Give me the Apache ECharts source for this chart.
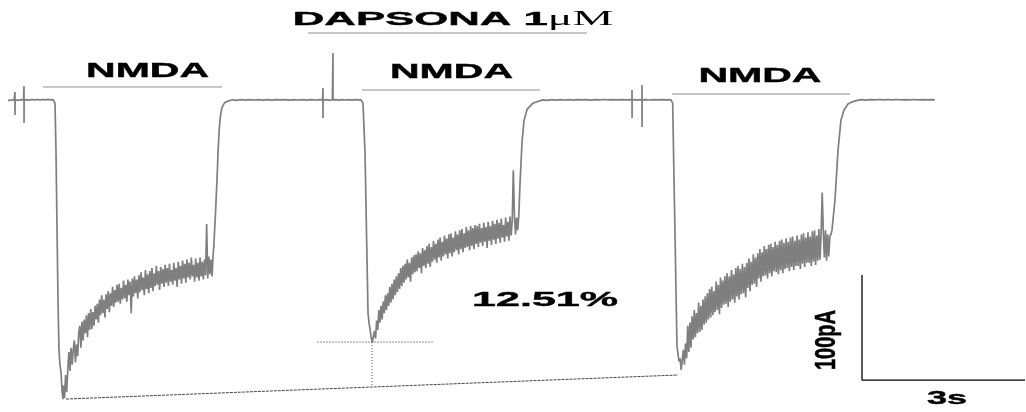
<!DOCTYPE html>
<html><head><meta charset="utf-8">
<script src="https://cdn.jsdelivr.net/npm/echarts@6/dist/echarts.min.js"></script>
<style>html,body{margin:0;padding:0;background:#fff}#c{width:1026px;height:412px}</style>
</head><body><div id="c"></div>
<script>
// ---- Recording (time in s, current in pA) ----
const segA = [[0.146,-0.3],[0.18,0.2],[0.22,-0.2],[0.26,0.3],[0.273,0],[0.274,7.6],[0.275,-14.3],[0.276,0],[0.31,0.3],[0.35,-0.2],[0.39,0.3],[0.43,-0.1],[0.438,0],[0.439,13.3],[0.44,-21.9],[0.441,0],[0.48,0.4],[0.53,-0.1],[0.58,0.5],[0.63,0.1],[0.68,0.5],[0.73,0.2],[0.78,0.5],[0.83,0.1],[0.88,0.6],[0.93,0.2],[0.97,0.4],[0.99,-0.3],[1.006,-3],[1.024,-47.6],[1.061,-190.5],[1.079,-238],[1.098,-253],[1.116,-259],[1.134,-276],[1.152,-285]];
const plateau1Start = 1.16;
const plateau1 = [-272,-284,-262,-278,-256,-240,-258,-236,-252,-238,-229,-250,-233,-244,-222,-215,-236,-211,-229,-209,-222,-205,-226,-203,-219,-199,-218,-202,-215,-196,-209,-194,-212,-190,-205,-186,-203,-190,-207,-185,-199,-182,-202,-184,-196,-178,-197,-181,-193,-176,-192,-175,-194,-179,-190,-172,-189,-176,-192,-171,-186,-173,-203,-170,-187,-168,-184,-171,-189,-167,-183,-164,-181,-169,-186,-162,-180,-166,-184,-163,-179,-160,-182,-165,-177,-158,-176,-163,-181,-159,-175,-161,-178,-157,-174,-160,-177,-156,-173,-162,-176,-155,-172,-160,-178,-154,-171,-158,-175,-153,-170,-156,-174,-152,-169,-155,-171,-150,-168,-157,-173,-151,-169,-155,-172,-150,-168,-154,-171,-152,-167,-118,-170,-149,-166,-152,-168];
const segB = [[3.895,-150],[3.91,-140],[3.94,-110],[3.97,-75],[3.99,-48],[4.01,-28],[4.03,-16],[4.06,-7],[4.11,-2.5],[4.18,-0.8],[4.26,0.2],[4.33,-0.3],[4.41,0.3],[4.49,-0.1],[4.57,0.4],[4.65,0],[4.73,0.4],[4.81,-0.2],[4.89,0.3],[4.97,-0.1],[5.05,0.4],[5.13,0.1],[5.21,0.3],[5.29,-0.2],[5.37,0.3],[5.45,0],[5.53,0.4],[5.61,-0.1],[5.69,0.3],[5.77,0],[5.85,0.3],[5.90,0.1],[5.907,0],[5.908,11.4],[5.909,-17.1],[5.91,0],[5.96,0.3],[6.02,-0.1],[6.08,0.2],[6.09,0],[6.091,44.8],[6.092,0],[6.14,0.3],[6.20,-0.1],[6.26,0.3],[6.32,0],[6.38,0.3],[6.44,-0.1],[6.50,0.4],[6.56,0.1],[6.60,0.3],[6.622,0.2],[6.64,-3],[6.677,-50],[6.732,-203],[6.75,-212],[6.768,-218],[6.79,-226],[6.81,-231]];
const plateau2Start = 6.83;
const plateau2 = [-230,-220,-227,-210,-219,-200,-212,-196,-209,-192,-203,-186,-200,-184,-196,-178,-193,-175,-190,-171,-186,-168,-183,-165,-180,-160,-177,-158,-174,-156,-171,-152,-169,-155,-173,-150,-166,-148,-164,-147,-163,-144,-160,-146,-165,-141,-158,-143,-160,-139,-156,-137,-159,-140,-154,-134,-152,-137,-155,-133,-150,-131,-153,-135,-149,-129,-147,-132,-151,-128,-146,-127,-149,-131,-145,-125,-143,-128,-147,-124,-142,-123,-145,-127,-141,-121,-140,-124,-143,-120,-139,-122,-142,-119,-137,-120,-140,-118,-136,-122,-139,-117,-135,-121,-141,-116,-134,-120,-138,-115,-133,-118,-137,-114,-132,-117,-136,-113,-131,-119,-135,-112,-130,-116,-134,-111,-129,-115,-67,-110,-128,-112,-124];
const segC = [[9.49,-110],[9.512,-80],[9.549,-40],[9.585,-20],[9.64,-9],[9.75,-3],[9.85,-1.2],[9.93,0.1],[10.01,-0.3],[10.09,0.3],[10.17,-0.1],[10.25,0.4],[10.33,0],[10.41,0.3],[10.49,-0.2],[10.57,0.4],[10.65,0.1],[10.73,0.3],[10.81,-0.1],[10.89,0.4],[10.97,0.1],[11.05,0.5],[11.13,0.2],[11.21,0.4],[11.29,0.1],[11.37,0.4],[11.45,0.1],[11.52,0.3],[11.56,0],[11.561,9.5],[11.562,-17.1],[11.563,0],[11.61,0.3],[11.66,-0.1],[11.70,0.3],[11.743,0],[11.744,14.3],[11.745,-25.7],[11.746,0],[11.80,0.4],[11.88,0],[11.96,0.4],[12.04,0.1],[12.12,0.4],[12.20,0.1],[12.27,0.3],[12.293,0.2],[12.305,-3],[12.32,-48],[12.384,-235],[12.42,-249],[12.44,-246],[12.46,-257]];
const plateau3Start = 12.48;
const plateau3 = [-257,-238,-252,-232,-246,-215,-240,-212,-236,-206,-228,-200,-226,-203,-222,-193,-221,-196,-219,-190,-214,-187,-212,-184,-209,-180,-207,-178,-205,-182,-202,-173,-200,-176,-204,-169,-198,-172,-195,-168,-194,-165,-197,-168,-192,-162,-190,-166,-193,-160,-187,-158,-190,-161,-185,-156,-184,-159,-188,-155,-179,-151,-182,-154,-176,-147,-175,-150,-178,-146,-170,-142,-173,-145,-168,-139,-167,-142,-170,-138,-165,-137,-168,-140,-163,-135,-164,-138,-166,-134,-162,-133,-165,-136,-161,-132,-160,-135,-163,-131,-159,-130,-162,-134,-158,-129,-158,-133,-161,-128,-156,-127,-159,-131,-155,-126,-155,-130,-158,-125,-154,-124,-157,-129,-153,-123,-152,-127,-88,-125,-150,-124,-153,-128,-149,-130];
const segD = [[15.2,-128],[15.219,-124],[15.274,-95],[15.329,-48],[15.384,-19],[15.439,-9.5],[15.512,-3.8],[15.60,-1.5],[15.68,-0.4],[15.76,0.3],[15.84,-0.1],[15.92,0.4],[16.00,0.1],[16.08,0.5],[16.16,0.2],[16.24,0.5],[16.32,0.2],[16.40,0.5],[16.48,0.1],[16.56,0.4],[16.64,0.2],[16.72,0.5],[16.80,0.2],[16.88,0.4],[16.96,0.1],[17.04,0.3],[17.10,0.2]];
const sampleStep = 0.02; // s

// ---- Annotations ----
const nmdaBars = [[0.787,4.061,12.4],[6.622,9.878,9.5],[12.293,15.549,5.7]]; // start s, end s, level pA
const nmdaLabels = [[2.70,27.1],[8.259,26.2],[13.902,22.4]];
const drugBar = [5.634,10.738,63.8];
const drugLabel = [8.287,76.0];
const drugText = 'DAPSONA 1';
const drugUnit = 'μM';
const peakRef = [6.805,-230.5];
const peakRefSpan = [5.799,7.921];
const peakRefDrop = -271.4;
const peakLine = [[1.207,-284.8],[12.402,-261.9]];
const pctText = '12.51%';
const pctPos = [9.97,-191.0];
const scaleBar = [[15.768,-166.7],[15.768,-266.7],[18.75,-266.7]];
const scaleYText = '100pA';
const scaleYPos = [15.128,-228.6];
const scaleXText = '3s';
const scaleXPos = [17.323,-284.3];

const expand = (start, vals) => vals.map((v, i) => [+(start + i * sampleStep).toFixed(3), v]);
const trace = [].concat(segA, expand(plateau1Start, plateau1), segB, expand(plateau2Start, plateau2), segC, expand(plateau3Start, plateau3), segD);

const chart = echarts.init(document.getElementById('c'));
const lineSeries = (data, color, width, type) => ({
  type: 'line', data, showSymbol: false, symbol: 'none', silent: true, animation: false,
  lineStyle: { color, width, type: type || 'solid' }, z: 2
});
const series = [
  lineSeries(trace, '#7f7f7f', 1.7),
  ...nmdaBars.map(b => lineSeries([[b[0], b[2]], [b[1], b[2]]], '#8c8c8c', 1)),
  lineSeries([[drugBar[0], drugBar[2]], [drugBar[1], drugBar[2]]], '#8c8c8c', 1),
  lineSeries([[peakRefSpan[0], peakRef[1]], [peakRefSpan[1], peakRef[1]]], '#8a8a8a', 1, [2, 1]),
  lineSeries([peakRef, [peakRef[0], peakRefDrop]], '#555', 1, [1, 2]),
  lineSeries(peakLine, '#444', 1, [3, 1]),
  lineSeries(scaleBar, '#000', 1.3)
];
chart.setOption({
  animation: false,
  grid: { left: 0, right: 0, top: 0, bottom: 0 },
  xAxis: { type: 'value', min: 0, max: 18.768, show: false },
  yAxis: { type: 'value', min: -297.14, max: 95.24, show: false },
  series
});
const px = p => chart.convertToPixel({ gridIndex: 0 }, p);
const SANS = '"Liberation Sans", Arial, sans-serif';
const textEl = (p, text, size, sx, extra) => {
  const q = px(p);
  return Object.assign({
    type: 'text', x: q[0], y: q[1], scaleX: sx, silent: true, z: 10,
    style: { text, fontFamily: SANS, fontWeight: 'bold', fontSize: size, fill: '#000', stroke: '#000', lineWidth: 0.4, align: 'center', verticalAlign: 'middle' }
  }, extra || {});
};
const graphics = nmdaLabels.map(p => textEl(p, 'NMDA', 20, 2.05));
(() => {
  const q = px(drugLabel);
  graphics.push({
    type: 'text', x: q[0], y: q[1], scaleX: 2.3, silent: true, z: 10,
    style: {
      text: '{a|' + drugText + '}{b|' + drugUnit + '}', align: 'center', verticalAlign: 'middle', fill: '#000',
      rich: {
        a: { fontFamily: SANS, fontWeight: 'bold', fontSize: 19, fill: '#000', stroke: '#000', lineWidth: 0.4 },
        b: { fontFamily: '"Liberation Serif", serif', fontWeight: 'normal', fontSize: 20, fill: '#000' }
      }
    }
  });
})();
graphics.push(textEl(pctPos, pctText, 21, 2.05));
graphics.push(textEl(scaleXPos, scaleXText, 19, 1.9));
graphics.push(textEl(scaleYPos, scaleYText, 20, 1, { rotation: Math.PI / 2, scaleY: 1.45 }));
chart.setOption({ graphic: graphics });
</script>
</body></html>
